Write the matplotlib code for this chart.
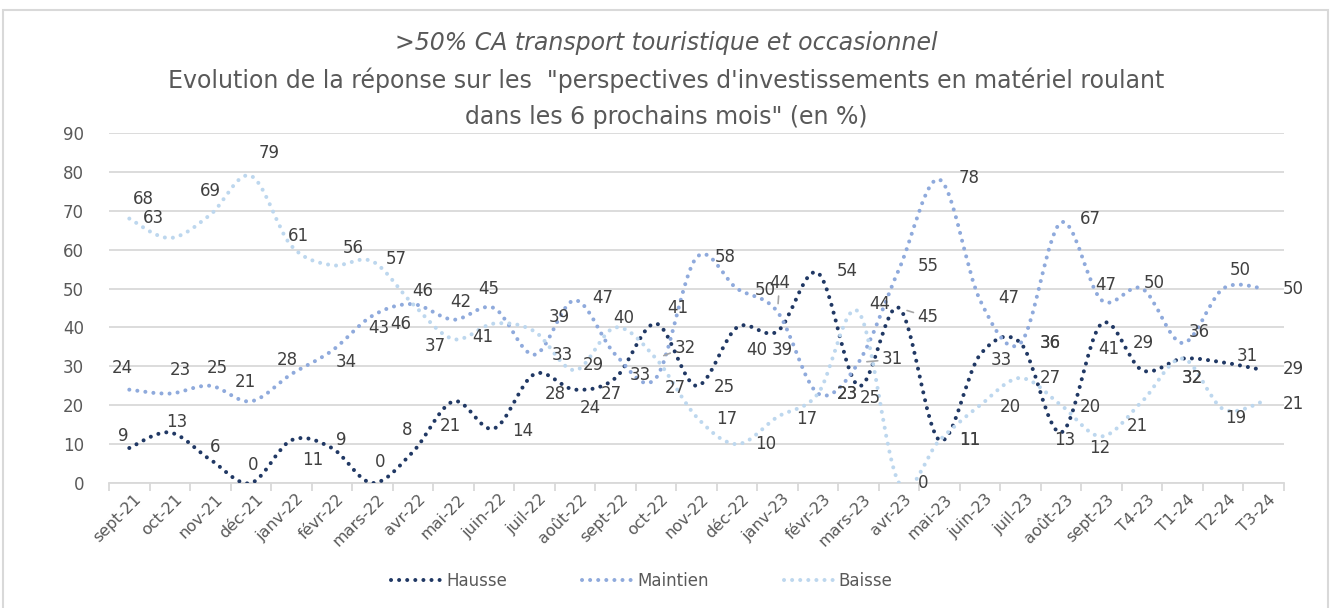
import numpy as np
import matplotlib
matplotlib.use("Agg")
import matplotlib.pyplot as plt
import matplotlib.transforms as mtransforms
from matplotlib.path import Path
from matplotlib.patches import PathPatch, Rectangle
from matplotlib.lines import Line2D

plt.rcParams['font.family'] = ['DejaVu Sans']

mois = ['sept-21', 'oct-21', 'nov-21', 'déc-21', 'janv-22', 'févr-22', 'mars-22',
        'avr-22', 'mai-22', 'juin-22', 'juil-22', 'août-22', 'sept-22', 'oct-22',
        'nov-22', 'déc-22', 'janv-23', 'févr-23', 'mars-23', 'avr-23', 'mai-23',
        'juin-23', 'juil-23', 'août-23', 'sept-23', 'T4-23', 'T1-24', 'T2-24', 'T3-24']

hausse = [9, 13, 6, 0, 11, 9, 0, 8, 21, 14, 28, 24, 27, 41, 25, 40, 39, 54, 25, 45,
          11, 33, 36, 13, 41, 29, 32, 31, 29]
maintien = [24, 23, 25, 21, 28, 34, 43, 46, 42, 45, 33, 47, 33, 27, 58, 50, 44, 23, 31, 55,
            78, 47, 36, 67, 47, 50, 36, 50, 50]
baisse = [68, 63, 69, 79, 61, 56, 57, 46, 37, 41, 39, 29, 40, 32, 17, 10, 17, 23, 44, 0,
          11, 20, 27, 20, 12, 21, 32, 19, 21]

# position des étiquettes (décalage en pixels par rapport au point)
off_h = [(-6, 12), (7, 10), (5, 13), (2, 18), (21, -20), (9, 8), (8, 21), (-6, 22), (-3, -25),
         (29, -2), (21, -20), (15, -18), (-4, -16), (22, 16), (28, -1), (20, -23), (5, -19),
         (29, 2), (12, -12), (29, -9), (30, 0), (21, -5), (30, 0), (4, -8), (7, -25), (1, 27),
         (10, -19), (24, 6), (30, 1)]
off_m = [(-7, 22), (11, 24), (7, 18), (-5, 19), (-4, 14), (14, -11), (6, -12), (10, 13),
         (7, 18), (-5, 19), (28, 0), (28, 2), (25, -20), (19, -10), (29, 0), (28, -1), (2, 29),
         (29, 0), (34, 3), (29, 3), (30, 2), (29, 2), (30, 0), (29, 3), (4, 15), (12, 6),
         (17, 11), (17, 19), (30, 0)]
off_b = [(14, 20), (-16, 20), (0, 24), (18, 23), (7, 10), (21, 17), (24, 2), (-12, -20),
         (-18, -7), (-11, -13), (25, 14), (18, 5), (8, 9), (29, 11), (30, -2), (29, 0),
         (29, -2), (29, 0), (21, 8), (24, 0), (30, 0), (30, -2), (30, 0), (29, -2), (-2, -12),
         (-5, -25), (10, -19), (13, -9), (30, -3)]
# étiquettes reliées par un trait de rappel
leaders = {('h', 19), ('m', 16), ('m', 18), ('b', 13)}

c_h, c_m, c_b = '#203864', '#8FAADC', '#BDD7EE'
gris = '#595959'


def courbe_lissee(ax, y, color):
    # courbe lissée type Excel : segments de Bézier cubiques passant par les points
    x = np.arange(len(y), dtype=float)
    y = np.asarray(y, dtype=float)
    verts = [(x[0], y[0])]
    codes = [Path.MOVETO]
    n = len(y)
    for i in range(n - 1):
        p0 = max(i - 1, 0)
        p3 = min(i + 2, n - 1)
        c1 = (x[i] + (x[i + 1] - x[p0]) / 6, y[i] + (y[i + 1] - y[p0]) / 6)
        c2 = (x[i + 1] - (x[p3] - x[i]) / 6, y[i + 1] - (y[p3] - y[i]) / 6)
        verts += [c1, c2, (x[i + 1], y[i + 1])]
        codes += [Path.CURVE4] * 3
    patch = PathPatch(Path(verts, codes), facecolor='none', edgecolor=color, lw=2.9,
                      linestyle=(0, (0.01, 2.0)), capstyle='round', zorder=3)
    ax.add_patch(patch)


fig = plt.figure(figsize=(13.33, 6.08), dpi=100)
ax = fig.add_axes([0.0818, 0.2056, 0.8814, 0.5756])

for serie, col in [(hausse, c_h), (maintien, c_m), (baisse, c_b)]:
    courbe_lissee(ax, serie, col)

for key, serie, offs in [('h', hausse, off_h), ('m', maintien, off_m), ('b', baisse, off_b)]:
    for i, (v, (dx, dy)) in enumerate(zip(serie, offs)):
        kw = {}
        if (key, i) in leaders:
            kw['arrowprops'] = dict(arrowstyle='-', color='#A6A6A6', lw=1.2,
                                    shrinkA=1, shrinkB=6)
        ax.annotate(str(v), (i, v), xytext=(dx, dy), textcoords='offset pixels',
                    ha='center', va='center', fontsize=12, color='#404040', zorder=4, **kw)

ax.set_xlim(-0.5, len(mois) - 0.5)
ax.set_ylim(0, 90)
ax.set_yticks(range(0, 91, 10))
ax.yaxis.grid(True, color='#D9D9D9', lw=1.3)
ax.set_axisbelow(True)
for s in ['top', 'right', 'left']:
    ax.spines[s].set_visible(False)
ax.spines['bottom'].set_color('#D9D9D9')
ax.spines['bottom'].set_linewidth(1.3)
ax.tick_params(axis='y', length=0, labelsize=12, labelcolor=gris, pad=18)

ax.set_xticks(range(len(mois)))
ax.set_xticklabels(mois, rotation=45, ha='right', va='center', rotation_mode='anchor',
                   fontsize=11.5, color=gris)
ax.tick_params(axis='x', which='major', length=0, pad=10)
decal = mtransforms.ScaledTranslation(0.10, 0.0, fig.dpi_scale_trans)
for lab in ax.get_xticklabels():
    lab.set_transform(lab.get_transform() + decal)
ax.set_xticks(np.arange(-0.5, len(mois), 1), minor=True)
ax.tick_params(axis='x', which='minor', length=6, width=1.3, color='#D9D9D9')

fig.text(0.5, 1 - 43 / 608, '>50% CA transport touristique et occasionnel', ha='center',
         va='center', fontsize=17, style='italic', color=gris)
fig.text(0.5, 1 - 80 / 608, 'Evolution de la réponse sur les  "perspectives d\'investissements '
         'en matériel roulant', ha='center', va='center', fontsize=17, color=gris)
fig.text(0.5, 1 - 117 / 608, 'dans les 6 prochains mois" (en %)', ha='center', va='center',
         fontsize=17, color=gris)

handles = [Line2D([], [], color=c, lw=2.9, linestyle=(0, (0.01, 2.0)),
                  dash_capstyle='round') for c in (c_h, c_m, c_b)]
fig.legend(handles, ['Hausse', 'Maintien', 'Baisse'], loc='center',
           bbox_to_anchor=(642 / 1333, 1 - 581 / 608), ncol=3, frameon=False,
           fontsize=12, handlelength=3.0, handletextpad=0.3, columnspacing=4.5,
           labelcolor=gris)

fig.patches.append(Rectangle((3 / 1333, -0.01), 1325 / 1333, 1 - 10 / 608 + 0.01,
                             transform=fig.transFigure, fill=False, edgecolor='#D9D9D9',
                             lw=1.5))

fig.savefig('out.png', dpi=100)
